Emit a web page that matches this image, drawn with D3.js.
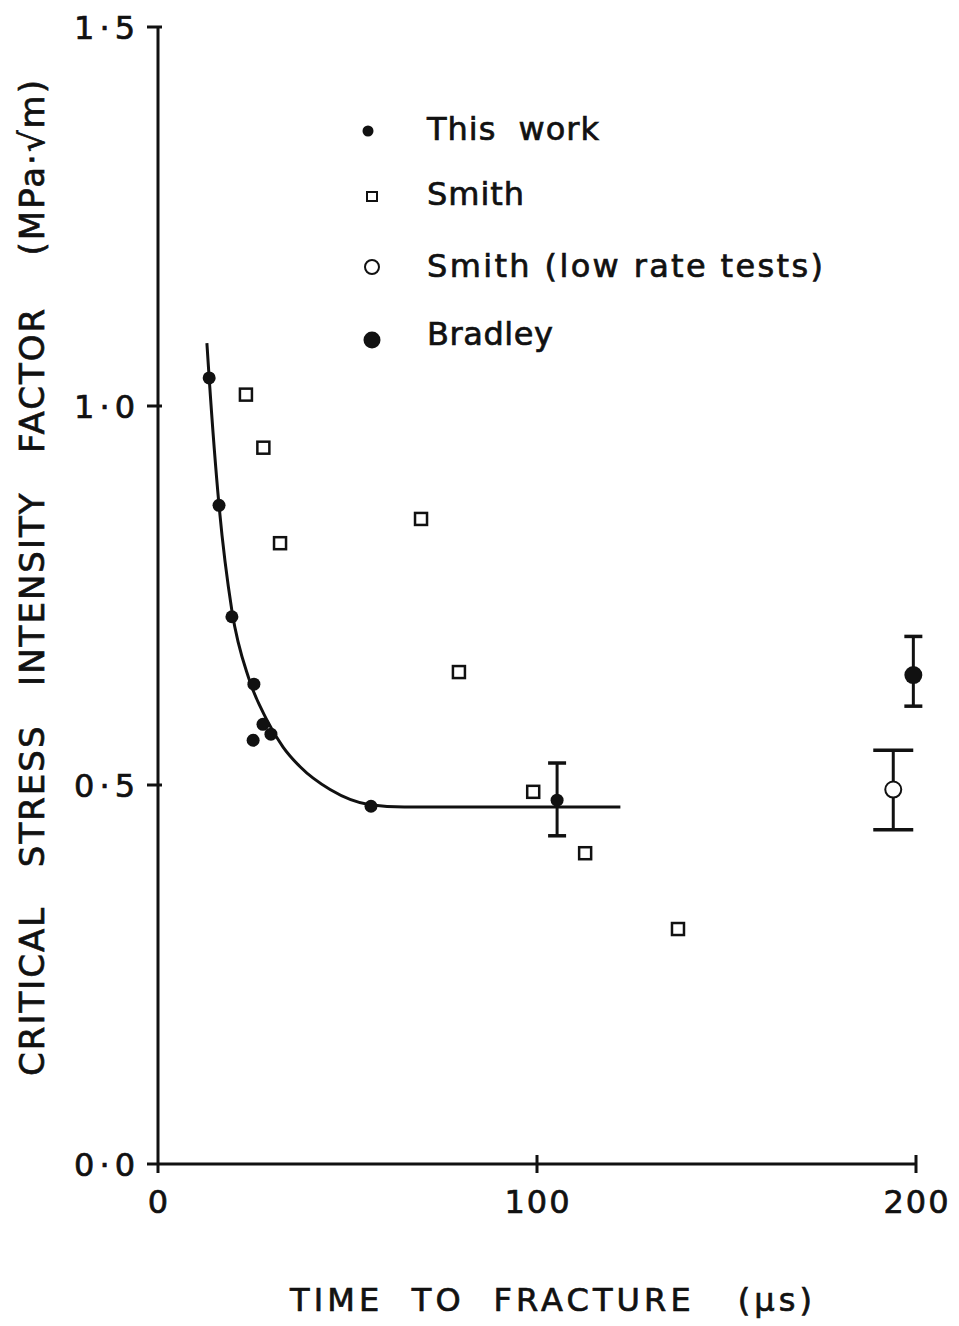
<!DOCTYPE html>
<html><head><meta charset="utf-8">
<script src="https://cdn.jsdelivr.net/npm/d3@7"></script>
<style>body{margin:0;background:#fff}svg{display:block}text{font-family:"DejaVu Sans",sans-serif;fill:#111;stroke:#111;stroke-width:0.7px}</style>
</head><body><svg id="c" width="959" height="1326"></svg>
<script>
// Data
const thisWorkX = [13.5, 16.1, 19.5, 25.3, 25.1, 27.7, 29.8, 56.2, 105.3];
const thisWorkY = [1.037, 0.869, 0.722, 0.633, 0.559, 0.580, 0.567, 0.472, 0.480];
const thisWorkErr = [null, null, null, null, null, null, null, null, [0.433, 0.529]];
const smithX = [23.2, 27.8, 32.2, 69.4, 79.4, 99.0, 112.7, 137.2];
const smithY = [1.015, 0.945, 0.819, 0.851, 0.649, 0.491, 0.410, 0.310];
const lowRateX = [194.0];
const lowRateY = [0.494];
const lowRateErr = [[0.441, 0.546]];
const bradleyX = [199.3];
const bradleyY = [0.645];
const bradleyErr = [[0.604, 0.696]];
const fitX = [12.9, 13.5, 16.1, 19.5, 24.0, 28.5, 33.0, 37.5, 45.4, 55.9, 65, 122];
const fitY = [1.083, 1.037, 0.869, 0.730, 0.640, 0.588, 0.550, 0.524, 0.494, 0.474, 0.471, 0.471];
const xTicks = [0, 100, 200];
const xTickLabels = ["0", "100", "200"];
const yTicks = [0, 0.5, 1.0, 1.5];
const yTickLabels = ["0·0", "0·5", "1·0", "1·5"];
const legendLabels = ["This work", "Smith", "Smith (low rate tests)", "Bradley"];

const svg = d3.select("#c");
const x = d3.scaleLinear().domain([0, 200]).range([158, 916]);
const y = d3.scaleLinear().domain([0, 1.5]).range([1164, 27]);
const ink = "#111";

// Axes
svg.append("line").attr("x1", x(0)).attr("x2", x(200)).attr("y1", y(0)).attr("y2", y(0)).attr("stroke", ink).attr("stroke-width", 3);
svg.append("line").attr("x1", x(0)).attr("x2", x(0)).attr("y1", y(0)).attr("y2", y(1.5)).attr("stroke", ink).attr("stroke-width", 3);
xTicks.forEach((t, i) => {
  svg.append("line").attr("x1", x(t)).attr("x2", x(t)).attr("y1", y(0) - (t === 0 ? 0 : 9)).attr("y2", y(0) + 9).attr("stroke", ink).attr("stroke-width", 3);
  svg.append("text").attr("x", x(t) + 1).attr("y", 1213).attr("text-anchor", "middle").attr("font-size", 32).attr("letter-spacing", 2).text(xTickLabels[i]);
});
yTicks.forEach((t, i) => {
  svg.append("line").attr("x1", x(0) - 11).attr("x2", x(0) + (t === 0 ? 0 : 4)).attr("y1", y(t)).attr("y2", y(t)).attr("stroke", ink).attr("stroke-width", 3);
  svg.append("text").attr("x", 140).attr("y", y(t) + 12).attr("text-anchor", "end").attr("font-size", 32).attr("letter-spacing", 5).text(yTickLabels[i]);
});

// Axis titles
svg.append("text").attr("x", 290).attr("y", 1311).attr("font-size", 32).attr("textLength", 522).attr("lengthAdjust", "spacing").attr("xml:space", "preserve")
  .text("TIME  TO  FRACTURE   (μs)");
svg.append("text").attr("transform", "translate(44,1076) rotate(-90)").attr("font-size", 34).attr("textLength", 996).attr("lengthAdjust", "spacing").attr("xml:space", "preserve")
  .text("CRITICAL   STRESS   INTENSITY   FACTOR    (MPa·√m)");

// Fit curve
const fit = fitX.map((v, i) => [v, fitY[i]]);
svg.append("path").attr("d", d3.line().x(d => x(d[0])).y(d => y(d[1])).curve(d3.curveMonotoneX)(fit))
  .attr("fill", "none").attr("stroke", ink).attr("stroke-width", 3);

// Error bars
function errBar(xv, lo, hi, cap) {
  svg.append("line").attr("x1", x(xv)).attr("x2", x(xv)).attr("y1", y(lo)).attr("y2", y(hi)).attr("stroke", ink).attr("stroke-width", 3);
  [lo, hi].forEach(v => svg.append("line").attr("x1", x(xv) - cap).attr("x2", x(xv) + cap).attr("y1", y(v)).attr("y2", y(v)).attr("stroke", ink).attr("stroke-width", 3.5));
}
thisWorkErr.forEach((e, i) => { if (e) errBar(thisWorkX[i], e[0], e[1], 9); });
lowRateErr.forEach((e, i) => errBar(lowRateX[i], e[0], e[1], 20));
bradleyErr.forEach((e, i) => errBar(bradleyX[i], e[0], e[1], 9));

// Points
thisWorkX.forEach((v, i) => svg.append("circle").attr("cx", x(v)).attr("cy", y(thisWorkY[i])).attr("r", 6.5).attr("fill", ink));
smithX.forEach((v, i) => svg.append("rect").attr("x", x(v) - 6).attr("y", y(smithY[i]) - 6).attr("width", 12).attr("height", 12).attr("fill", "#fff").attr("stroke", ink).attr("stroke-width", 2.5));
lowRateX.forEach((v, i) => svg.append("circle").attr("cx", x(v)).attr("cy", y(lowRateY[i])).attr("r", 8).attr("fill", "#fff").attr("stroke", ink).attr("stroke-width", 2));
bradleyX.forEach((v, i) => svg.append("circle").attr("cx", x(v)).attr("cy", y(bradleyY[i])).attr("r", 9).attr("fill", ink));

// Legend
const legY = [140, 205, 277, 345];
const legW = [172, 97, 396, 126];
const mk = [
  g => g.append("circle").attr("cx", 368).attr("cy", 131).attr("r", 5.5).attr("fill", ink),
  g => g.append("rect").attr("x", 367).attr("y", 192).attr("width", 10).attr("height", 9).attr("fill", "#fff").attr("stroke", ink).attr("stroke-width", 2),
  g => g.append("circle").attr("cx", 372).attr("cy", 267).attr("r", 7).attr("fill", "#fff").attr("stroke", ink).attr("stroke-width", 2),
  g => g.append("circle").attr("cx", 372).attr("cy", 340).attr("r", 8.5).attr("fill", ink)
];
legendLabels.forEach((l, i) => {
  mk[i](svg);
  svg.append("text").attr("x", 427).attr("y", legY[i]).attr("font-size", 32).attr("textLength", legW[i]).attr("lengthAdjust", "spacing").attr("xml:space", "preserve").text(l.replace(" ", i === 2 ? " " : "  "));
});
</script></body></html>
